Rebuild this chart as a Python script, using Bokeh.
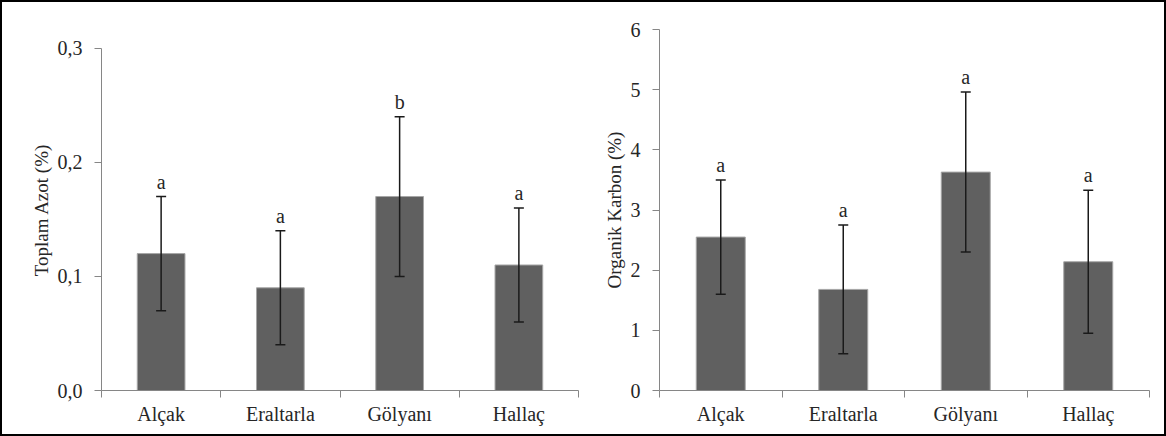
from bokeh.plotting import figure
from bokeh.models import ColumnDataSource, Range1d, FixedTicker, Whisker, TeeHead, CustomJSTickFormatter
from bokeh.layouts import row
from bokeh.embed import file_html
from bokeh.resources import INLINE
from bokeh.core.properties import value

categories = ["Alçak", "Eraltarla", "Gölyanı", "Hallaç"]
azot_mean = [0.12, 0.09, 0.17, 0.11]
azot_sd = [0.05, 0.05, 0.07, 0.05]
azot_letters = ["a", "a", "b", "a"]
karbon_mean = [2.55, 1.68, 3.63, 2.14]
karbon_sd = [0.95, 1.07, 1.33, 1.19]
karbon_letters = ["a", "a", "a", "a"]
azot_ticks = [0.0, 0.1, 0.2, 0.3]
karbon_ticks = [0, 1, 2, 3, 4, 5, 6]

FONT = "Liberation Serif"
TEXT = "#262626"
AXIS = "#868686"
FRAME_TOP = 27
FRAME_H = 361
HEIGHT = 432


def panel(mean, sd, letters, ticks, ylabel, width, left, right, top_pad, formatter=None):
    n = len(categories)
    xs = [i + 0.5 for i in range(n)]
    src = ColumnDataSource(dict(
        x=xs, top=mean,
        upper=[m + s for m, s in zip(mean, sd)],
        lower=[m - s for m, s in zip(mean, sd)],
        letter=letters,
    ))
    # extend the range above the top tick so the axis line stops at the last tick
    span = ticks[-1] - ticks[0]
    y_end = ticks[-1] + span * top_pad / (FRAME_H - top_pad)
    p = figure(width=width, height=HEIGHT, output_backend="svg", toolbar_location=None,
               x_range=Range1d(0, n), y_range=Range1d(ticks[0], y_end),
               min_border_left=left, min_border_right=right,
               min_border_top=FRAME_TOP, min_border_bottom=HEIGHT - FRAME_TOP - FRAME_H,
               outline_line_color=None, background_fill_color="white",
               border_fill_color="white")
    p.grid.visible = False
    p.vbar(x="x", top="top", bottom=0, width=0.4, source=src,
           fill_color="#606060", line_color="#a6a6a6", line_width=1)
    w = Whisker(base="x", upper="upper", lower="lower", source=src, level="annotation",
                line_color="#1a1a1a", line_width=1.5,
                upper_head=TeeHead(size=10, line_color="#1a1a1a", line_width=1.5),
                lower_head=TeeHead(size=10, line_color="#1a1a1a", line_width=1.5))
    p.add_layout(w)
    p.text(x="x", y="upper", text="letter", source=src, text_align="center",
           text_baseline="bottom", y_offset=-4, text_color=TEXT,
           text_font=value(FONT), text_font_size="20px")

    # x axis: labels at category centres, ticks at category boundaries
    xa = p.xaxis[0]
    xa.ticker = FixedTicker(ticks=xs, minor_ticks=list(range(n + 1)))
    xa.major_label_overrides = {x: c for x, c in zip(xs, categories)}
    xa.major_tick_line_color = None
    xa.major_tick_out = 0
    xa.major_tick_in = 0
    xa.minor_tick_out = 7
    xa.minor_tick_in = 0
    xa.minor_tick_line_color = AXIS
    xa.axis_line_color = AXIS
    xa.major_label_standoff = 5
    xa.major_label_text_font = FONT
    xa.major_label_text_font_size = "20px"
    xa.major_label_text_color = TEXT

    ya = p.yaxis[0]
    ya.ticker = FixedTicker(ticks=ticks)
    ya.bounds = (ticks[0], ticks[-1])
    ya.minor_tick_line_color = None
    if formatter is not None:
        ya.formatter = formatter
    ya.major_tick_out = 7
    ya.major_tick_in = 0
    ya.major_tick_line_color = AXIS
    ya.axis_line_color = AXIS
    ya.major_label_standoff = 12
    ya.major_label_text_font = FONT
    ya.major_label_text_font_size = "20px"
    ya.major_label_text_color = TEXT
    ya.axis_label = ylabel
    ya.axis_label_text_font = FONT
    ya.axis_label_text_font_size = "19px"
    ya.axis_label_text_font_style = "normal"
    ya.axis_label_text_color = TEXT
    ya.axis_label_standoff = 3
    return p


comma = CustomJSTickFormatter(code="return tick.toFixed(1).replace('.', ',');")
p1 = panel(azot_mean, azot_sd, azot_letters, azot_ticks, "Toplam Azot (%)",
           588, 99, 12, 18.7, comma)
p2 = panel(karbon_mean, karbon_sd, karbon_letters, karbon_ticks, "Organik Karbon (%)",
           574, 69, 15, 0.0)

layout = row(p1, p2, styles={"border": "2px solid #000000"})
open("out.html", "w").write(file_html(layout, INLINE))
